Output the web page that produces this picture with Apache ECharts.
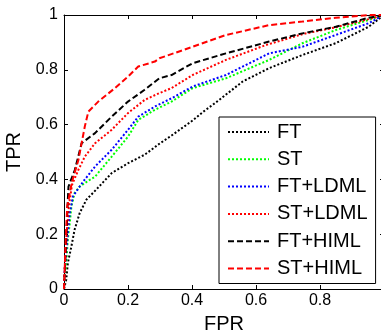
<!DOCTYPE html>
<html><head><meta charset="utf-8">
<script src="https://cdn.jsdelivr.net/npm/echarts@6/dist/echarts.min.js"></script>
<style>html,body{margin:0;padding:0;background:#fff}#c{width:381px;height:334px}</style>
</head><body><div id="c"></div>
<script>
const seriesNames = ['FT','ST','FT+LDML','ST+LDML','FT+HIML','ST+HIML'];
const xTicks = [0,0.2,0.4,0.6,0.8];
const yTicks = [0,0.2,0.4,0.6,0.8,1];
const FT = [[0,0],[0.007,0.034],[0.012,0.095],[0.023,0.155],[0.033,0.216],[0.049,0.277],[0.07,0.326],[0.1,0.362],[0.149,0.423],[0.2,0.459],[0.252,0.49],[0.298,0.53],[0.336,0.56],[0.402,0.615],[0.433,0.645],[0.485,0.69],[0.558,0.757],[0.641,0.806],[0.745,0.854],[0.849,0.897],[0.952,0.957],[1,1]];
const ST = [[0,0],[0.002,0.046],[0.007,0.095],[0.012,0.18],[0.018,0.24],[0.023,0.3],[0.033,0.35],[0.049,0.374],[0.08,0.398],[0.097,0.41],[0.149,0.483],[0.2,0.556],[0.232,0.617],[0.284,0.654],[0.336,0.684],[0.402,0.733],[0.506,0.769],[0.641,0.836],[0.745,0.897],[0.849,0.945],[0.952,0.982],[1,1]];
const FT_LDML = [[0,0],[0.002,0.07],[0.012,0.204],[0.018,0.277],[0.028,0.338],[0.049,0.374],[0.064,0.398],[0.097,0.447],[0.149,0.508],[0.2,0.581],[0.232,0.629],[0.284,0.666],[0.336,0.696],[0.402,0.739],[0.506,0.781],[0.641,0.86],[0.745,0.884],[0.849,0.927],[0.952,0.97],[1,1]];
const ST_LDML = [[0,0],[0.003,0.1],[0.008,0.2],[0.015,0.3],[0.025,0.38],[0.045,0.435],[0.065,0.483],[0.097,0.532],[0.149,0.581],[0.2,0.642],[0.252,0.69],[0.298,0.715],[0.336,0.733],[0.402,0.781],[0.506,0.836],[0.63,0.89],[0.745,0.93],[0.849,0.955],[0.952,0.985],[1,1]];
const FT_HIML = [[0,0],[0.004,0.1],[0.008,0.2],[0.011,0.3],[0.014,0.374],[0.034,0.435],[0.055,0.532],[0.097,0.569],[0.149,0.629],[0.2,0.684],[0.252,0.727],[0.298,0.769],[0.336,0.781],[0.402,0.824],[0.506,0.86],[0.641,0.903],[0.745,0.933],[0.849,0.957],[0.952,0.99],[1,1]];
const ST_HIML = [[0,0],[0.003,0.1],[0.006,0.2],[0.01,0.3],[0.024,0.387],[0.045,0.471],[0.065,0.593],[0.076,0.647],[0.107,0.684],[0.159,0.733],[0.2,0.775],[0.232,0.812],[0.284,0.83],[0.298,0.842],[0.402,0.884],[0.506,0.927],[0.641,0.963],[0.745,0.976],[0.849,0.99],[0.952,1.0],[1,1]];

const allData = [FT, ST, FT_LDML, ST_LDML, FT_HIML, ST_HIML];
const colors = ['#000000','#00ff00','#0000ff','#ff0000','#000000','#ff0000'];
const dashes = [[2,2],[2,2],[2,2],[2,2],[6,3],[6,3]];

const font = 'Liberation Sans, Arial, sans-serif';
const chart = echarts.init(document.getElementById('c'), null, {renderer:'canvas'});
const axCommon = {
  min: 0, max: 1, interval: 0.2,
  axisLine: {show: true, onZero: false, lineStyle: {color: '#000', width: 1}},
  axisTick: {show: true, inside: true, length: 4, lineStyle: {color: '#000'}},
  splitLine: {show: false}
};
chart.setOption({
  animation: false,
  backgroundColor: '#fff',
  grid: {left: 64, top: 15, width: 320, height: 274, containLabel: false, outerBoundsMode: 'none'},
  xAxis: [
    Object.assign({}, axCommon, {type: 'value', position: 'bottom',
      name: 'FPR', nameLocation: 'middle', nameGap: 25,
      nameTextStyle: {fontFamily: font, fontSize: 20, color: '#000'},
      axisLabel: {fontFamily: font, fontSize: 16, color: '#000', margin: 4,
        formatter: v => xTicks.some(t => Math.abs(t - v) < 1e-9) ? String(+v.toFixed(1)) : ''}}),
    Object.assign({}, axCommon, {type: 'value', position: 'top', axisLabel: {show: false}})
  ],
  yAxis: [
    Object.assign({}, axCommon, {type: 'value', position: 'left',
      name: 'TPR', nameLocation: 'middle', nameGap: 29,
      nameTextStyle: {fontFamily: font, fontSize: 20, color: '#000'},
      axisLabel: {fontFamily: font, fontSize: 16, color: '#000', margin: 6,
        formatter: v => yTicks.some(t => Math.abs(t - v) < 1e-9) ? String(+v.toFixed(1)) : ''}}),
    Object.assign({}, axCommon, {type: 'value', position: 'right', axisLabel: {show: false}})
  ],
  legend: {
    orient: 'vertical', left: 219, top: 117,
    padding: [5, 8, 5, 8], itemGap: 7.3, itemWidth: 41, itemHeight: 20,
    backgroundColor: '#fff', borderColor: '#000', borderWidth: 1, borderRadius: 0,
    itemStyle: {opacity: 0},
    lineStyle: {width: 2},
    textStyle: {fontFamily: font, fontSize: 20, color: '#000', lineHeight: 20, padding: [0,0,0,3]},
    data: seriesNames
  },
  series: seriesNames.map((n, i) => ({
    name: n, type: 'line', data: allData[i], showSymbol: false, symbol: 'none',
    xAxisIndex: 0, yAxisIndex: 0, clip: true,
    lineStyle: {color: colors[i], width: 2, type: dashes[i]},
    itemStyle: {color: colors[i]}
  }))
});
</script></body></html>
